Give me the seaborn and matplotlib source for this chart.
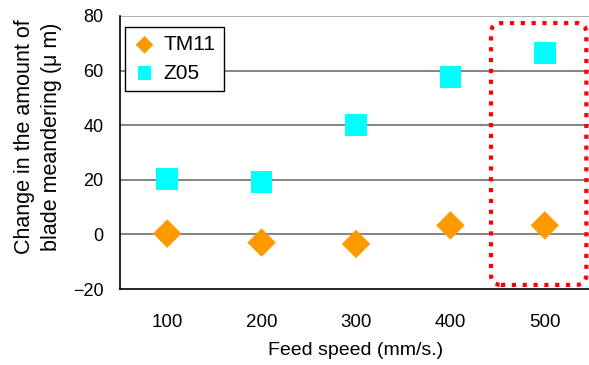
import numpy as np
import pandas as pd
import matplotlib
matplotlib.use("Agg")
import matplotlib.pyplot as plt
import seaborn as sns
from matplotlib.patches import FancyBboxPatch
from matplotlib.transforms import IdentityTransform

# Data
feed_speed = ["100", "200", "300", "400", "500"]
tm11 = [0.3, -3.0, -3.5, 3.3, 3.3]
z05 = [20.4, 19.2, 40.2, 57.7, 66.4]

sns.set_style("white")
plt.rcParams['font.family'] = ['Liberation Sans', 'Noto Sans CJK JP']
plt.rcParams['text.color'] = 'black'
plt.rcParams['axes.labelcolor'] = 'black'
plt.rcParams['xtick.color'] = 'black'
plt.rcParams['ytick.color'] = 'black'

df = pd.DataFrame({"Feed speed": feed_speed, "TM11": tm11, "Z05": z05})

fig = plt.figure(figsize=(5.89, 3.65), dpi=100)
ax = fig.add_axes([120 / 589, 1 - 289 / 365, 472 / 589, 273 / 365])

# horizontal grid lines
for y in [0, 20, 40, 60]:
    ax.axhline(y, color="#707070", lw=1.2, zorder=0)
ax.axhline(80, color="#a0a0a0", lw=1.2, zorder=0)

sns.scatterplot(data=df, x="Feed speed", y="TM11", marker="D", s=210,
                color="#FF9900", edgecolor="none", label="TM11", ax=ax, zorder=3)
sns.scatterplot(data=df, x="Feed speed", y="Z05", marker="s", s=245,
                color="#00FFFF", edgecolor="none", label="Z05", ax=ax, zorder=3)

ax.set_xlim(-0.5, 4.5)
ax.set_ylim(-20, 80)
ax.set_yticks([-20, 0, 20, 40, 60, 80])
ax.set_yticklabels(["\u221220", "0", "20", "40", "60", "80"])

ax.set_xticks(range(5))
ax.set_xticklabels(feed_speed)
ax.set_xticks([0.5, 1.5, 2.5, 3.5], minor=True)
ax.tick_params(axis="x", which="major", length=0, pad=18, labelsize=13.5)
ax.tick_params(axis="x", which="minor", direction="in", length=5, width=1, color="#555555")
ax.tick_params(axis="y", length=0, pad=12, labelsize=13)

for side in ["top", "right"]:
    ax.spines[side].set_visible(False)
for side in ["left", "bottom"]:
    ax.spines[side].set_color("black")
    ax.spines[side].set_linewidth(1.2)

ax.set_xlabel("Feed speed (mm/s.)", fontsize=14, labelpad=8)
ax.set_ylabel("Change in the amount of\nblade meandering (μ m)", fontsize=15.5,
              linespacing=1.4)
ax.yaxis.set_label_coords(-0.123, 0.557)

leg = ax.legend(loc="upper left", bbox_to_anchor=(0.01, 0.96), borderaxespad=0,
                frameon=True, fancybox=False, edgecolor="black", framealpha=1,
                fontsize=15, handletextpad=0.35, borderpad=0.4, labelspacing=0.45,
                handlelength=1.1, markerscale=0.62)
leg.get_frame().set_linewidth(1.0)

# red dotted rounded highlight around the 500 mm/s point
x0, y0 = ax.transData.transform((3.43, -18.5))
x1, y1 = ax.transData.transform((4.44, 77.4))
box = FancyBboxPatch((x0, y0), x1 - x0, y1 - y0,
                     boxstyle="round,pad=0,rounding_size=10",
                     transform=IdentityTransform(), fill=False,
                     edgecolor="#FF0000", lw=3, linestyle=(0, (1, 1.6)),
                     zorder=5)
fig.patches.append(box)

fig.savefig("out.png", dpi=100)
